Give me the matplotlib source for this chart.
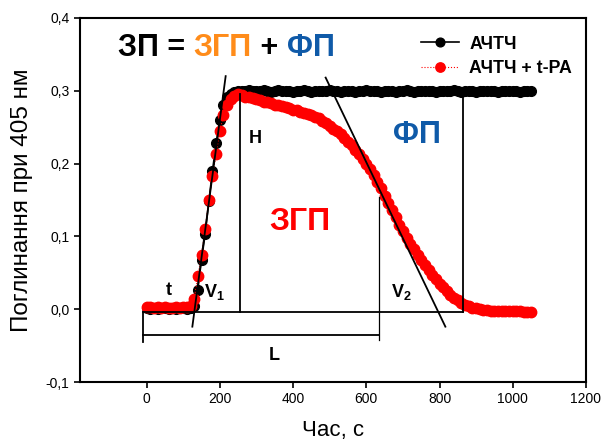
import numpy as np
import matplotlib.pyplot as plt

plt.rcParams['font.family'] = ['Liberation Sans', 'DejaVu Sans']
plt.rcParams['mathtext.fontset'] = 'custom'
plt.rcParams['mathtext.rm'] = 'Liberation Sans'
plt.rcParams['mathtext.bf'] = 'Liberation Sans:bold'

# час, с (крок 10 с)
time = np.arange(0, 1060, 10)

# АЧТЧ
achtch = [0.001, 0.000, 0.001, 0.000, 0.001, 0.001, 0.000, 0.001, 0.000, 0.001,
          0.001, 0.000, 0.001, 0.004, 0.027, 0.068, 0.103, 0.148, 0.190, 0.228,
          0.260, 0.280, 0.291, 0.296, 0.298, 0.299, 0.300, 0.299, 0.301, 0.300,
          0.299, 0.300, 0.301, 0.299, 0.298, 0.300, 0.301, 0.300, 0.299, 0.300,
          0.298, 0.299, 0.300, 0.301, 0.299, 0.298, 0.299, 0.300, 0.299, 0.300,
          0.301, 0.300, 0.299, 0.298, 0.299, 0.300, 0.299, 0.298, 0.299, 0.300,
          0.301, 0.300, 0.299, 0.300, 0.298, 0.299, 0.300, 0.299, 0.298, 0.299,
          0.300, 0.301, 0.299, 0.298, 0.299, 0.300, 0.299, 0.300, 0.299, 0.298,
          0.299, 0.300, 0.299, 0.300, 0.301, 0.299, 0.298, 0.299, 0.300, 0.299,
          0.298, 0.299, 0.300, 0.299, 0.300, 0.299, 0.298, 0.299, 0.300, 0.299,
          0.300, 0.299, 0.298, 0.299, 0.300, 0.299]

# АЧТЧ + t-PA
achtch_tpa = [0.003, 0.003, 0.002, 0.003, 0.002, 0.003, 0.002, 0.002, 0.003, 0.002,
              0.003, 0.003, 0.004, 0.014, 0.045, 0.075, 0.110, 0.150, 0.183, 0.213,
              0.245, 0.266, 0.280, 0.288, 0.293, 0.295, 0.294, 0.292, 0.291, 0.290,
              0.288, 0.287, 0.285, 0.284, 0.283, 0.281, 0.280, 0.279, 0.277, 0.276,
              0.274, 0.273, 0.271, 0.269, 0.268, 0.266, 0.264, 0.262, 0.259, 0.256,
              0.252, 0.248, 0.244, 0.240, 0.235, 0.230, 0.225, 0.219, 0.213, 0.206,
              0.199, 0.192, 0.184, 0.175, 0.166, 0.156, 0.146, 0.136, 0.126, 0.116,
              0.107, 0.098, 0.090, 0.082, 0.075, 0.068, 0.061, 0.054, 0.047, 0.041,
              0.035, 0.030, 0.025, 0.020, 0.016, 0.012, 0.009, 0.006, 0.004, 0.002,
              0.001, 0.000, -0.001, -0.001, -0.002, -0.002, -0.002, -0.002, -0.003, -0.003,
              -0.003, -0.003, -0.003, -0.004, -0.004, -0.004]

xticks = [0, 200, 400, 600, 800, 1000, 1200]
yticks = [-0.1, 0.0, 0.1, 0.2, 0.3, 0.4]
ytick_labels = ['-0,1', '0,0', '0,1', '0,2', '0,3', '0,4']

# допоміжні лінії (дотичні V1, V2, H, L)
v1_x, v1_y = [125, 216], [-0.024, 0.320]
v2_x, v2_y = [489, 816], [0.318, -0.024]
base_y = -0.004
l_y = -0.036
h_t, fp_t, l_t, l_start = 256, 863, 636, -11

blue = '#0f5aa8'

fig = plt.figure(figsize=(6.01, 4.47), dpi=100)
ax = fig.add_axes([0.133, 0.1454, 0.842, 0.8146])

ax.plot(time, achtch, '-o', color='black', lw=1.2, ms=7, label='АЧТЧ', zorder=3)
ax.plot(time, achtch_tpa, ':o', color='red', lw=0.8, ms=7.5, label='АЧТЧ + t-PA', zorder=4)

lk = dict(color='black', lw=1.3, zorder=5)
ax.plot(v1_x, v1_y, **lk)
ax.plot(v2_x, v2_y, **lk)
ax.plot([l_start, fp_t], [base_y, base_y], **lk)
ax.plot([h_t, h_t], [base_y, 0.296], **lk)
ax.plot([fp_t, fp_t], [base_y, 0.298], **lk)
ax.plot([l_t, l_t], [-0.043, 0.154], color='black', lw=0.9, zorder=5)
ax.plot([l_start, l_t], [l_y, l_y], **lk)
ax.plot([l_start, l_start], [base_y, -0.045], **lk)

bold = dict(fontweight='bold', ha='center', va='center', fontsize=13)
ax.text(60, 0.026, 't', **bold)
ax.text(186, 0.023, r'$\mathbf{V_1}$', **bold)
ax.text(697, 0.023, r'$\mathbf{V_2}$', **bold)
ax.text(298, 0.235, 'H', **bold)
ax.text(350, -0.064, 'L', **bold)
ax.text(418, 0.120, 'ЗГП', color='red', fontsize=23, fontweight='bold', ha='center', va='center')
ax.text(738, 0.239, 'ФП', color=blue, fontsize=22, fontweight='bold', ha='center', va='center')

# заголовок ЗП = ЗГП + ФП
parts = [('ЗП = ', 'black'), ('ЗГП', '#ff8c1a'), (' + ', 'black'), ('ФП', blue)]
t0 = ax.text(-78, 0.359, parts[0][0], color=parts[0][1], fontsize=22, fontweight='bold',
             ha='left', va='center')
prev = t0
for s, c in parts[1:]:
    prev = ax.annotate(s, xy=(1, 0), xycoords=prev, color=c, fontsize=22,
                       fontweight='bold', ha='left', va='bottom')

ax.set_xlim(-182, 1200)
ax.set_ylim(-0.1, 0.4)
ax.set_xticks(xticks)
ax.set_yticks(yticks)
ax.set_yticklabels(ytick_labels)
ax.tick_params(labelsize=10, length=4, width=1.2, direction='out')
for sp in ax.spines.values():
    sp.set_linewidth(1.5)

ax.set_xlabel('Час, с', fontsize=16, labelpad=10)
ax.set_ylabel('Поглинання при 405 нм', fontsize=17.5, labelpad=9)

ax.legend(loc='upper left', bbox_to_anchor=(0.643, 0.995), frameon=False,
          prop={'weight': 'bold', 'size': 12.8}, handlelength=2.1, handletextpad=0.6,
          labelspacing=0.4, markerscale=0.9)

fig.savefig('out.png', dpi=100)
